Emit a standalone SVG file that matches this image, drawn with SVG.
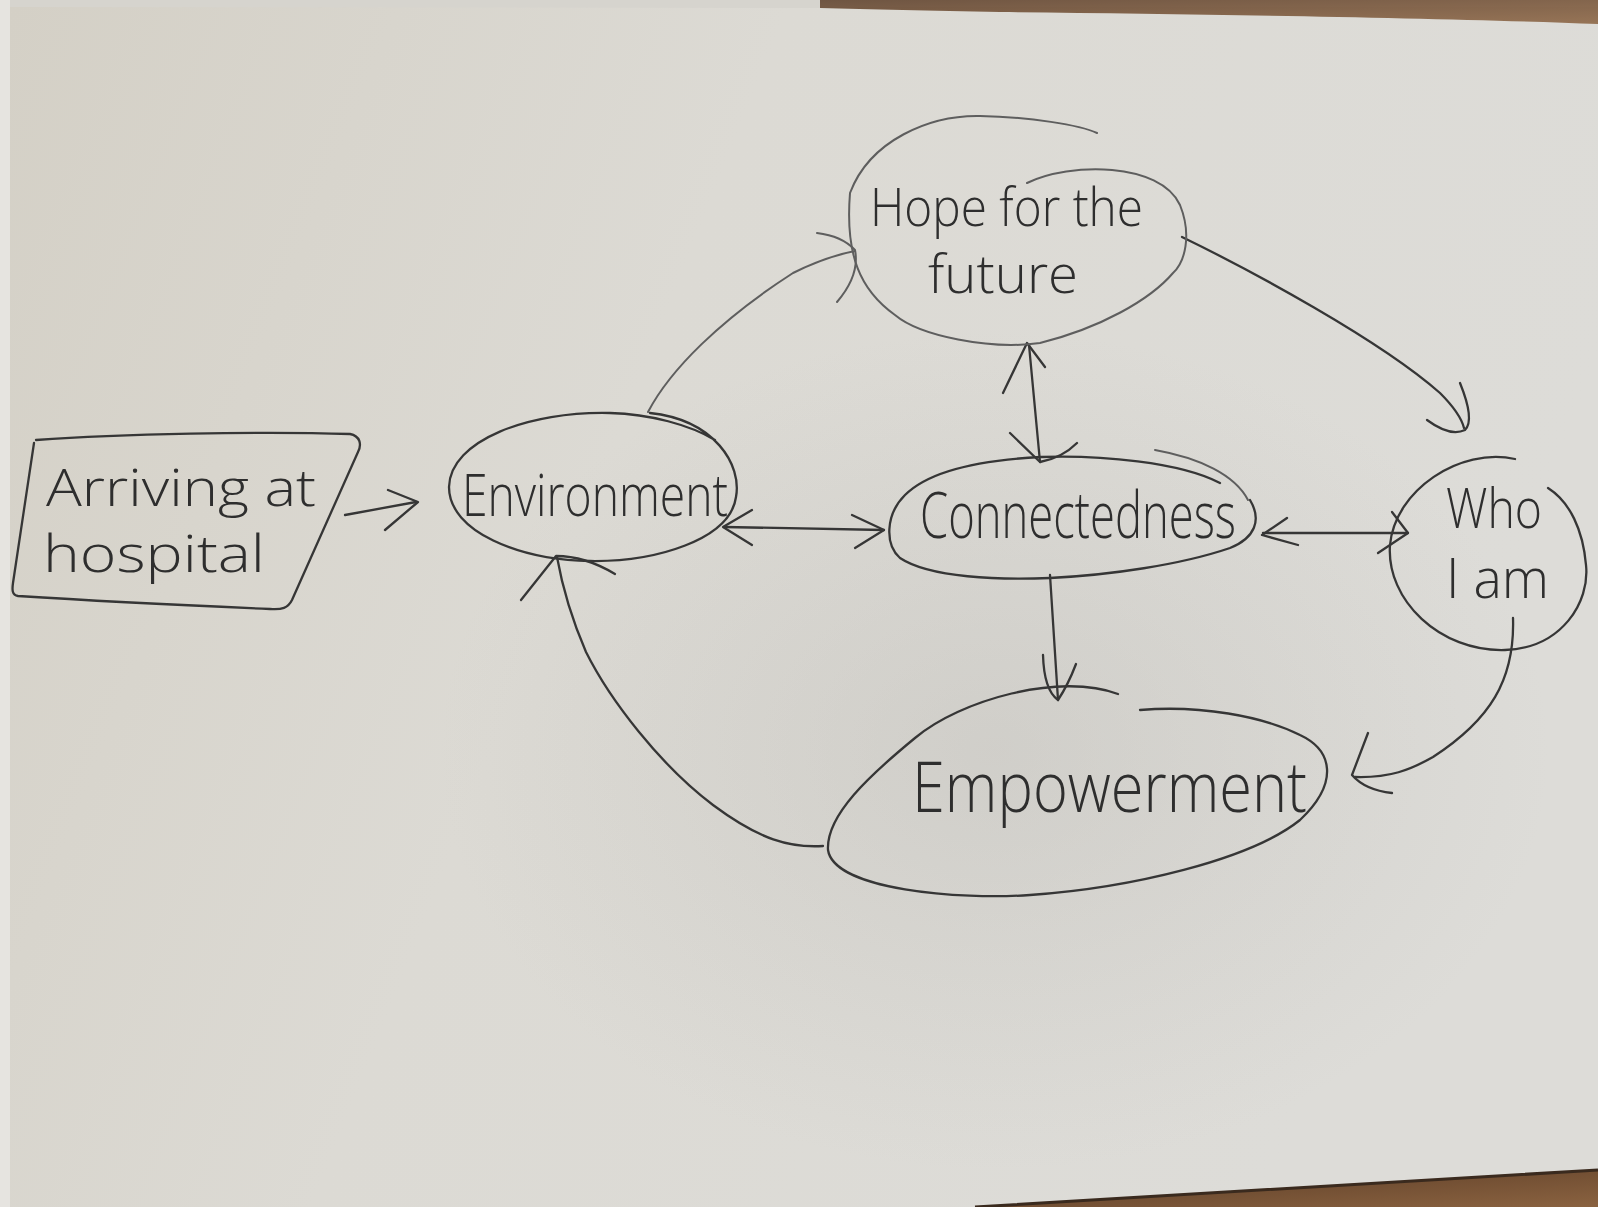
<svg xmlns="http://www.w3.org/2000/svg" width="1598" height="1207" viewBox="0 0 1598 1207">
  <defs>
    <linearGradient id="paper" x1="0" y1="0" x2="1" y2="0.3">
      <stop offset="0" stop-color="#d4d0c6"/>
      <stop offset="0.45" stop-color="#dcdad4"/>
      <stop offset="1" stop-color="#dddcd8"/>
    </linearGradient>
    <radialGradient id="shade" cx="0.62" cy="0.62" r="0.35">
      <stop offset="0" stop-color="#b9b7b2" stop-opacity="0.35"/>
      <stop offset="1" stop-color="#b9b7b2" stop-opacity="0"/>
    </radialGradient>
    <linearGradient id="wood" x1="0" y1="0" x2="1" y2="1">
      <stop offset="0" stop-color="#5a3c26"/>
      <stop offset="1" stop-color="#8a6240"/>
    </linearGradient>
  </defs>
  <style>
    .ink { fill: none; stroke: #363636; stroke-width: 2.3; stroke-linecap: round; stroke-linejoin: round; }
    .faint { stroke: #5e5e5e; stroke-width: 2; }
    .label { font-family: "Open Sans", "Liberation Sans", sans-serif; font-weight: 300; fill: #2e2e2e; }
  </style>

  <!-- paper sheet on the table -->
  <rect x="0" y="0" width="1598" height="1207" fill="#e6e4e0"/>
  <rect x="10" y="7" width="1588" height="1200" fill="url(#paper)"/>
  <rect x="10" y="7" width="1588" height="1200" fill="url(#shade)"/>
  <path d="M 820 0 L 1598 0 L 1598 24 C 1450 18 1200 14 1000 12 C 930 11 870 9 820 8 Z" fill="url(#wood)" opacity="0.85"/>
  <path d="M 10 0 L 820 0 L 820 8 L 10 7 Z" fill="#d6d4ce"/>
  <path d="M 975 1207 C 1150 1196 1400 1182 1598 1170 L 1598 1207 Z" fill="url(#wood)"/>
  <path d="M 975 1207 C 1150 1196 1400 1182 1598 1170" fill="none" stroke="#3a2a1e" stroke-width="3"/>

  <!-- connectors -->
  <g id="connectors" class="ink">
    <!-- Arriving at hospital -> Environment -->
    <path d="M 345 515 L 416 502"/>
    <path d="M 388 490 L 418 502 L 385 530"/>
    <!-- Environment -> Hope for the future -->
    <path class="faint" d="M 648 412 C 670 370 720 320 793 273 C 815 262 835 255 855 251"/>
    <path class="faint" d="M 817 233 Q 842 236 855 250 Q 860 275 837 302"/>
    <!-- Hope for the future -> Who I am -->
    <path d="M 1182 237 C 1250 270 1380 340 1440 393 C 1455 408 1462 420 1464 428"/>
    <path d="M 1460 383 Q 1475 420 1465 430 Q 1450 437 1427 420"/>
    <!-- Hope for the future <-> Connectedness -->
    <path d="M 1029 345 L 1040 462"/>
    <path d="M 1003 393 L 1027 343 L 1045 367"/>
    <path d="M 1010 433 L 1040 462 Q 1062 458 1077 443"/>
    <!-- Environment <-> Connectedness -->
    <path d="M 724 527 L 884 530"/>
    <path d="M 752 510 L 723 527 L 752 545"/>
    <path d="M 852 515 L 884 530 L 855 548"/>
    <!-- Connectedness <-> Who I am -->
    <path d="M 1263 533 L 1408 533"/>
    <path d="M 1287 518 L 1262 535 L 1298 545"/>
    <path d="M 1392 512 L 1408 533 L 1378 553"/>
    <!-- Connectedness -> Empowerment -->
    <path d="M 1050 575 L 1058 700"/>
    <path d="M 1043 655 Q 1044 690 1058 700 Q 1068 685 1076 664"/>
    <!-- Who I am -> Empowerment -->
    <path d="M 1513 618 C 1515 680 1490 720 1433 757 C 1410 770 1390 778 1355 777"/>
    <path d="M 1368 733 L 1352 775 Q 1365 790 1392 793"/>
    <!-- Empowerment -> Environment -->
    <path d="M 823 846 C 790 848 760 840 713 805 C 660 765 610 700 586 652 C 570 615 562 585 557 557"/>
    <path d="M 521 600 L 556 556 Q 585 556 615 574"/>
  </g>

  <!-- Arriving at hospital -->
  <g id="node-arriving">
    <path class="ink" d="M 36 440 C 120 434 260 431 350 434 C 360 436 362 444 358 452 L 292 600 C 288 608 282 610 270 609 C 200 606 80 600 18 596 C 12 595 12 590 13 583 L 34 443"/>
    <text class="label" x="46" y="506" font-size="52" textLength="270" lengthAdjust="spacingAndGlyphs">Arriving at</text>
    <text class="label" x="43" y="572" font-size="52" textLength="222" lengthAdjust="spacingAndGlyphs">hospital</text>
  </g>

  <!-- Environment -->
  <g id="node-environment">
    <path class="ink" d="M 650 413 C 715 420 742 465 736 497 C 730 540 655 562 590 561 C 520 560 449 532 449 487 C 450 440 530 411 610 413 C 650 414 690 425 715 440"/>
    <text class="label" x="462" y="516" font-size="58" textLength="266" lengthAdjust="spacingAndGlyphs">Environment</text>
  </g>

  <!-- Hope for the future -->
  <g id="node-hope">
    <path class="ink faint" d="M 1027 183 C 1070 162 1160 162 1180 205 C 1192 235 1185 262 1173 273 C 1150 300 1100 328 1040 343 C 990 350 920 336 895 315 C 860 290 845 255 850 193 C 870 140 930 115 980 116 C 1030 117 1080 125 1097 133"/>
    <text class="label" x="870" y="226" font-size="54" textLength="273" lengthAdjust="spacingAndGlyphs">Hope for the</text>
    <text class="label" x="928" y="293" font-size="54" textLength="150" lengthAdjust="spacingAndGlyphs">future</text>
  </g>

  <!-- Connectedness -->
  <g id="node-connectedness">
    <path class="ink" d="M 1220 483 C 1180 462 1100 455 1041 457 C 980 460 930 470 905 495 C 885 515 885 545 900 558 C 930 578 1000 580 1050 578 C 1110 575 1180 565 1230 548 C 1255 538 1262 520 1250 500"/>
    <path class="ink faint" d="M 1155 450 C 1200 458 1235 475 1248 500"/>
    <text class="label" x="920" y="538" font-size="64" textLength="316" lengthAdjust="spacingAndGlyphs">Connectedness</text>
  </g>

  <!-- Who I am -->
  <g id="node-who">
    <path class="ink" d="M 1515 459 C 1460 447 1395 490 1390 545 C 1386 600 1440 652 1505 650 C 1562 648 1590 602 1586 565 C 1583 530 1570 502 1548 488"/>
    <text class="label" x="1446" y="528" font-size="56" textLength="96" lengthAdjust="spacingAndGlyphs">Who</text>
    <text class="label" x="1446" y="598" font-size="56" textLength="103" lengthAdjust="spacingAndGlyphs">I am</text>
  </g>

  <!-- Empowerment -->
  <g id="node-empowerment">
    <path class="ink" d="M 1118 694 C 1060 672 960 700 915 738 C 870 775 826 815 828 850 C 834 890 960 900 1030 895 C 1130 888 1250 860 1300 820 C 1340 782 1332 750 1300 735 C 1262 716 1200 705 1140 710"/>
    <text class="label" x="912" y="812" font-size="70" textLength="395" lengthAdjust="spacingAndGlyphs">Empowerment</text>
  </g>
</svg>
